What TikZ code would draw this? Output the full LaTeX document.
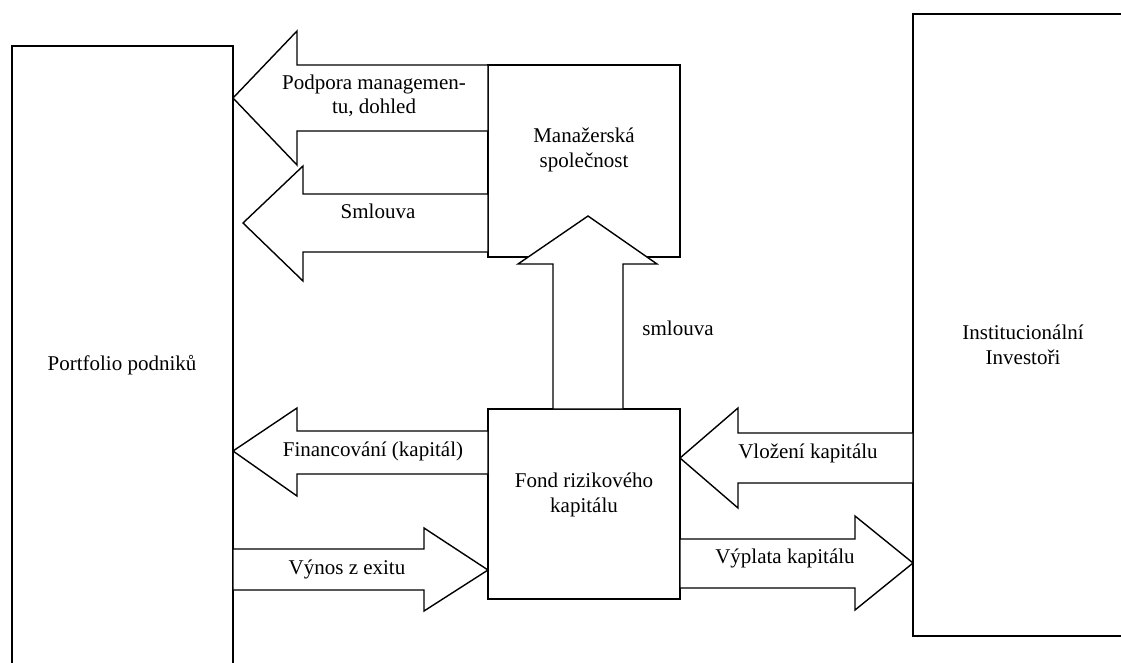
\documentclass[tikz,border=0pt]{standalone}
\usepackage{fontspec}
\setmainfont{Liberation Serif}
\usepackage{tikz}
\usetikzlibrary{positioning}
\usetikzlibrary{calc}
\tikzstyle{box} = [draw, line width=1.5pt, outer sep=0pt, inner sep=0pt]
\tikzstyle{blockarrow} = [draw, fill=white, line width=1.4pt, line join=miter]
\tikzstyle{txt} = [font=\fontsize{21}{24.5}\selectfont, align=center, inner sep=0pt]
\tikzstyle{lbl} = [txt, text height=14.5pt, text depth=4.5pt]

\begin{document}
\begin{tikzpicture}[x=1pt, y=-1pt]
                \useasboundingbox (0,0) rectangle (1121,662);
                \clip (0,0) rectangle (1121,662);
                % boxes
                \node[box, anchor=north west, minimum width=221, minimum height=638] (portfolio) at (12,46) {};
                \node[box, line width=2pt, anchor=north west, minimum width=220, minimum height=622] (investori) at (913,14) {};
                \node[box, anchor=north west, minimum width=192, minimum height=192] (manazer) at (488,65) {};
                \node[box, anchor=north west, minimum width=192, minimum height=190] (fond) at (488,409) {};
                % block arrows
                \draw[blockarrow] (manazer.north west) -- (297,65) -- (297,31) -- (portfolio.east |- 0,98) -- (297,165) -- (297,131) -- (manazer.west |- 0,131) -- cycle;
                \draw[blockarrow] (manazer.west |- 0,194) -- (303,194) -- (303,166) -- (243,223) -- (303,281) -- (303,252) -- (manazer.west |- 0,252) -- cycle;
                \draw[blockarrow] (fond.north -| 553,0) -- (553,264) -- (518,264) -- (588,216) -- (657,264) -- (623,264) -- (fond.north -| 623,0) -- cycle;
                \draw[blockarrow] (fond.west |- 0,431) -- (297,431) -- (297,408) -- (portfolio.east |- 0,451) -- (297,496) -- (297,474) -- (fond.west |- 0,474) -- cycle;
                \draw[blockarrow] (portfolio.east |- 0,549) -- (424,549) -- (424,528) -- (fond.west |- 0,570) -- (424,611) -- (424,590) -- (portfolio.east |- 0,590) -- cycle;
                \draw[blockarrow] (investori.west |- 0,433) -- (738,433) -- (738,408) -- (fond.east |- 0,458) -- (738,508) -- (738,483) -- (investori.west |- 0,483) -- cycle;
                \draw[blockarrow] (fond.east |- 0,539) -- (855,539) -- (855,516) -- (investori.west |- 0,563) -- (855,610) -- (855,588) -- (fond.east |- 0,588) -- cycle;
                % texts
                \node[txt] (portfoliotext) at (122,365) {Portfolio podniků};
                \node[txt] (investoritext) at (1023,345) {Institucionální\\Investoři};
                \node[txt] (manazertext) at (584,150) {Manažerská\\společnost};
                \node[txt] (fondtext) at (584,495) {Fond rizikového\\kapitálu};
                \node[txt] (podpora) at (374,96) {Podpora managemen-\\tu, dohled};
                \node[lbl] (smlouvaL) at (378,213) {Smlouva};
                \node[lbl] (smlouvaU) at (678,330) {smlouva};
                \node[lbl] (financovani) at (373,451) {Financování (kapitál)};
                \node[lbl] (vynos) at (347,569) {Výnos z exitu};
                \node[lbl] (vlozeni) at (808,453) {Vložení kapitálu};
                \node[lbl] (vyplata) at (785,558) {Výplata kapitálu};
            \end{tikzpicture}
\end{document}
